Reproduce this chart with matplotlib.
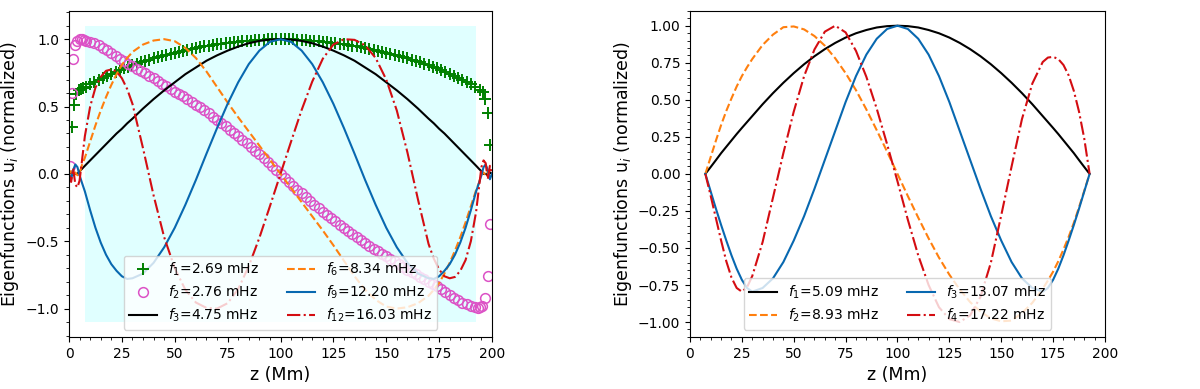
import numpy as np
import matplotlib
matplotlib.use("Agg")
import matplotlib.pyplot as plt
from matplotlib.ticker import MultipleLocator

# ---- left panel: sample heights z (Mm) ----
z_left = [0, 1, 2, 3, 4, 5, 6, 7.5, 10, 12.5, 15, 17.5, 20, 22.5, 25, 27.5, 30,
          35, 40, 45, 50, 55, 60, 65, 70, 75, 80, 85, 90, 95, 100, 105, 110, 115,
          120, 125, 130, 135, 140, 145, 150, 155, 160, 165, 170, 172.5, 175,
          177.5, 180, 182.5, 185, 187.5, 190, 192.5, 194, 195, 196, 197, 198, 199, 200]

u3_left = [0.0, 0.01, -0.01, 0.0, 0.0, 0.02, 0.035,
           0.06, 0.10, 0.14, 0.18, 0.22, 0.26, 0.30, 0.335, 0.375, 0.41,
           0.485, 0.555, 0.62, 0.68, 0.74, 0.79, 0.84, 0.88, 0.915, 0.945, 0.97, 0.987, 0.997, 1.0,
           0.997, 0.987, 0.97, 0.945, 0.915, 0.88, 0.84, 0.79, 0.74, 0.68, 0.62, 0.555, 0.485,
           0.41, 0.375, 0.335, 0.30, 0.26, 0.22, 0.18, 0.14, 0.10, 0.06,
           0.035, 0.02, 0.0, 0.0, -0.01, 0.01, 0.0]

u6_left = [0.0, 0.02, -0.02, 0.01, -0.01, 0.0, 0.06,
           0.12, 0.24, 0.36, 0.47, 0.57, 0.66, 0.74, 0.81, 0.86, 0.905,
           0.96, 0.99, 1.0, 0.985, 0.935, 0.86, 0.76, 0.645, 0.53, 0.42, 0.315, 0.21, 0.105, 0.0,
           -0.105, -0.21, -0.315, -0.42, -0.53, -0.645, -0.76, -0.86, -0.935, -0.985, -1.0, -0.99, -0.96,
           -0.905, -0.86, -0.81, -0.74, -0.66, -0.57, -0.47, -0.36, -0.24, -0.12,
           -0.06, 0.0, 0.01, -0.01, 0.02, -0.02, 0.0]

u9_left = [0.0, -0.04, 0.03, 0.07, 0.05, -0.01, -0.06,
           -0.13, -0.27, -0.40, -0.51, -0.60, -0.67, -0.72, -0.76, -0.78, -0.775,
           -0.74, -0.66, -0.545, -0.40, -0.23, -0.045, 0.15, 0.34, 0.52, 0.68, 0.815, 0.915, 0.98, 1.0,
           0.98, 0.915, 0.815, 0.68, 0.52, 0.34, 0.15, -0.045, -0.23, -0.40, -0.545, -0.66, -0.74,
           -0.775, -0.78, -0.76, -0.72, -0.67, -0.60, -0.51, -0.40, -0.27, -0.13,
           -0.06, -0.01, 0.05, 0.07, 0.03, -0.04, 0.0]

u12_left = [0.0, -0.06, 0.04, -0.08, -0.10, -0.05, 0.08,
            0.28, 0.50, 0.64, 0.72, 0.765, 0.775, 0.76, 0.71, 0.63, 0.52,
            0.19, -0.16, -0.47, -0.70, -0.86, -0.955, -0.995, -1.0, -0.96, -0.855, -0.685, -0.475, -0.24, 0.0,
            0.24, 0.475, 0.685, 0.855, 0.96, 1.0, 0.995, 0.955, 0.86, 0.70, 0.47, 0.16, -0.19,
            -0.52, -0.63, -0.71, -0.76, -0.775, -0.765, -0.72, -0.64, -0.50, -0.28,
            -0.08, 0.05, 0.10, 0.08, -0.04, 0.06, 0.0]

# marker series (f1, f2) sampled every 2 Mm plus the points near the boundaries
z_f1 = [1.5, 2.4, 3.5, 4.5, 5.5, 6.5] + list(np.arange(8, 193, 2)) + [194.5, 195.6, 196.8, 197.9, 199.0]
u_f1 = ([0.35, 0.51, 0.59, 0.62, 0.63, 0.64] +
        [0.645, 0.665, 0.68, 0.695, 0.71, 0.725, 0.74, 0.755, 0.77, 0.783, 0.795, 0.807,
         0.818, 0.829, 0.839, 0.849, 0.858, 0.867, 0.876, 0.884, 0.892, 0.90, 0.907, 0.914,
         0.921, 0.928, 0.934, 0.94, 0.946, 0.951, 0.956, 0.961, 0.966, 0.97, 0.974, 0.978,
         0.982, 0.985, 0.988, 0.99, 0.993, 0.995, 0.997, 0.998, 0.999, 1.0, 1.0,
         1.0, 0.999, 0.998, 0.997, 0.995, 0.993, 0.99, 0.988, 0.985, 0.982, 0.978, 0.974,
         0.97, 0.966, 0.961, 0.956, 0.951, 0.946, 0.94, 0.934, 0.928, 0.921, 0.914, 0.907,
         0.90, 0.892, 0.884, 0.876, 0.867, 0.858, 0.849, 0.839, 0.829, 0.818, 0.807, 0.795,
         0.783, 0.77, 0.755, 0.74, 0.725, 0.71, 0.695, 0.68, 0.665, 0.645] +
        [0.62, 0.61, 0.555, 0.45, 0.215])

z_f2 = [0.6, 1.2, 2.0, 2.9, 3.9, 5.0, 6.0, 7.0] + list(np.arange(8, 193, 2)) + [193.5, 194.5, 195.5, 196.6, 198.1, 199.0]
u_f2 = ([0.06, 0.60, 0.85, 0.955, 0.99, 1.0, 1.0, 0.995] +
        [0.99, 0.98, 0.968, 0.955, 0.938, 0.92, 0.90, 0.878, 0.856, 0.836, 0.818, 0.80,
         0.782, 0.764, 0.746, 0.728, 0.71, 0.69, 0.67, 0.65, 0.63, 0.61, 0.592, 0.575,
         0.555, 0.535, 0.515, 0.493, 0.471, 0.449, 0.425, 0.40, 0.376, 0.352, 0.328, 0.304,
         0.28, 0.254, 0.228, 0.201, 0.173, 0.145, 0.116, 0.087, 0.058, 0.029, 0.0,
         -0.029, -0.058, -0.087, -0.116, -0.145, -0.173, -0.201, -0.228, -0.254, -0.28, -0.304,
         -0.328, -0.352, -0.376, -0.40, -0.425, -0.449, -0.471, -0.493, -0.515, -0.535, -0.555,
         -0.575, -0.592, -0.61, -0.63, -0.65, -0.67, -0.69, -0.71, -0.728, -0.746, -0.764,
         -0.782, -0.80, -0.818, -0.836, -0.856, -0.878, -0.90, -0.92, -0.938, -0.955, -0.968,
         -0.98, -0.99] +
        [-0.995, -0.99, -0.98, -0.92, -0.755, -0.37])

labels_left = [r'$f_1$=2.69 mHz', r'$f_2$=2.76 mHz', r'$f_3$=4.75 mHz',
               r'$f_6$=8.34 mHz', r'$f_9$=12.20 mHz', r'$f_{12}$=16.03 mHz']

# ---- right panel ----
z_right = [7.4, 10, 12.5, 15, 17.5, 20, 22.5, 25, 27.5, 30, 35, 40, 45, 50, 55, 60,
           65, 70, 75, 80, 85, 90, 95, 100, 105, 110, 115, 120, 125, 130, 135, 140,
           145, 150, 155, 160, 165, 170, 172.5, 175, 177.5, 180, 182.5, 185, 187.5, 190, 192.6]

u1_right = [0.0, 0.047, 0.093, 0.14, 0.183, 0.226, 0.269, 0.31, 0.35, 0.39,
            0.47, 0.545, 0.615, 0.68, 0.74, 0.794, 0.842, 0.884, 0.92, 0.949, 0.971, 0.988, 0.997, 1.0,
            0.997, 0.988, 0.971, 0.949, 0.92, 0.884, 0.842, 0.794, 0.74, 0.68, 0.615, 0.545, 0.47,
            0.39, 0.35, 0.31, 0.269, 0.226, 0.183, 0.14, 0.093, 0.047, 0.0]

u2_right = [0.0, 0.115, 0.225, 0.33, 0.425, 0.51, 0.59, 0.66, 0.72, 0.775,
            0.87, 0.94, 0.99, 0.995, 0.975, 0.93, 0.865, 0.78, 0.68, 0.565, 0.435, 0.295, 0.15, 0.0,
            -0.15, -0.295, -0.435, -0.565, -0.68, -0.78, -0.865, -0.93, -0.975, -0.995, -0.99, -0.94, -0.87,
            -0.775, -0.72, -0.66, -0.59, -0.51, -0.425, -0.33, -0.225, -0.115, 0.0]

u3_right = [0.0, -0.12, -0.235, -0.345, -0.45, -0.55, -0.64, -0.715, -0.77, -0.795,
            -0.77, -0.705, -0.595, -0.45, -0.285, -0.10, 0.095, 0.29, 0.485, 0.66, 0.805, 0.912, 0.978, 1.0,
            0.978, 0.912, 0.805, 0.66, 0.485, 0.29, 0.095, -0.10, -0.285, -0.45, -0.595, -0.705, -0.77,
            -0.795, -0.77, -0.715, -0.64, -0.55, -0.45, -0.345, -0.235, -0.12, 0.0]

u4_right = [0.0, -0.15, -0.30, -0.45, -0.59, -0.70, -0.77, -0.795, -0.765, -0.69,
            -0.46, -0.16, 0.14, 0.42, 0.66, 0.84, 0.96, 1.0, 0.955, 0.83, 0.655, 0.44, 0.20, -0.05,
            -0.31, -0.55, -0.75, -0.90, -0.98, -1.0, -0.955, -0.83, -0.60, -0.28, 0.05, 0.37, 0.61,
            0.755, 0.785, 0.79, 0.775, 0.735, 0.665, 0.56, 0.42, 0.24, 0.0]

labels_right = [r'$f_1$=5.09 mHz', r'$f_2$=8.93 mHz', r'$f_3$=13.07 mHz', r'$f_4$=17.22 mHz']

c_orange = '#ff7f0e'
c_blue = '#0868b0'
c_red = '#d40d12'
c_pink = '#dc52c6'

fig = plt.figure(figsize=(12, 3.89), dpi=100)
ax1 = fig.add_axes([0.0575, 0.134, 0.3525, 0.838])
ax2 = fig.add_axes([0.575, 0.134, 0.3458, 0.838])

# left: corona region shading
ax1.fill_between([7.4, 192.6], -1.1, 1.1, color='lightcyan', lw=0)
ax1.plot(z_f1, u_f1, '+', color='green', ms=8, mew=1.4, label=labels_left[0])
ax1.plot(z_f2, u_f2, 'o', mfc='none', mec=c_pink, ms=7, mew=1.1, label=labels_left[1])
ax1.plot(z_left, u3_left, '-', color='black', lw=1.5, label=labels_left[2])
ax1.plot(z_left, u6_left, '--', color=c_orange, lw=1.5, label=labels_left[3])
ax1.plot(z_left, u9_left, '-', color=c_blue, lw=1.5, label=labels_left[4])
ax1.plot(z_left, u12_left, '-.', color=c_red, lw=1.5, label=labels_left[5])
ax1.set_xlim(0, 200)
ax1.legend(loc='lower center', ncol=2, fontsize=10, labelspacing=0.4)

ax2.plot(z_right, u1_right, '-', color='black', lw=1.5, label=labels_right[0])
ax2.plot(z_right, u2_right, '--', color=c_orange, lw=1.5, label=labels_right[1])
ax2.plot(z_right, u3_right, '-', color=c_blue, lw=1.5, label=labels_right[2])
ax2.plot(z_right, u4_right, '-.', color=c_red, lw=1.5, label=labels_right[3])
ax2.set_xlim(0, 200)
ax2.legend(loc='lower center', ncol=2, fontsize=10, labelspacing=0.4)

for ax in (ax1, ax2):
    ax.set_xlabel('z (Mm)', fontsize=12.5)
    ax.set_ylabel(r'Eigenfunctions u$_i$ (normalized)', fontsize=12.5, labelpad=3)
    ax.xaxis.set_major_locator(MultipleLocator(25))
    ax.xaxis.set_minor_locator(MultipleLocator(5))
    ax.tick_params(labelsize=10)

ax1.yaxis.set_major_locator(MultipleLocator(0.5))
ax1.yaxis.set_minor_locator(MultipleLocator(0.1))
ax2.yaxis.set_major_locator(MultipleLocator(0.25))
ax2.yaxis.set_minor_locator(MultipleLocator(0.05))

fig.savefig('out.png', dpi=100)
